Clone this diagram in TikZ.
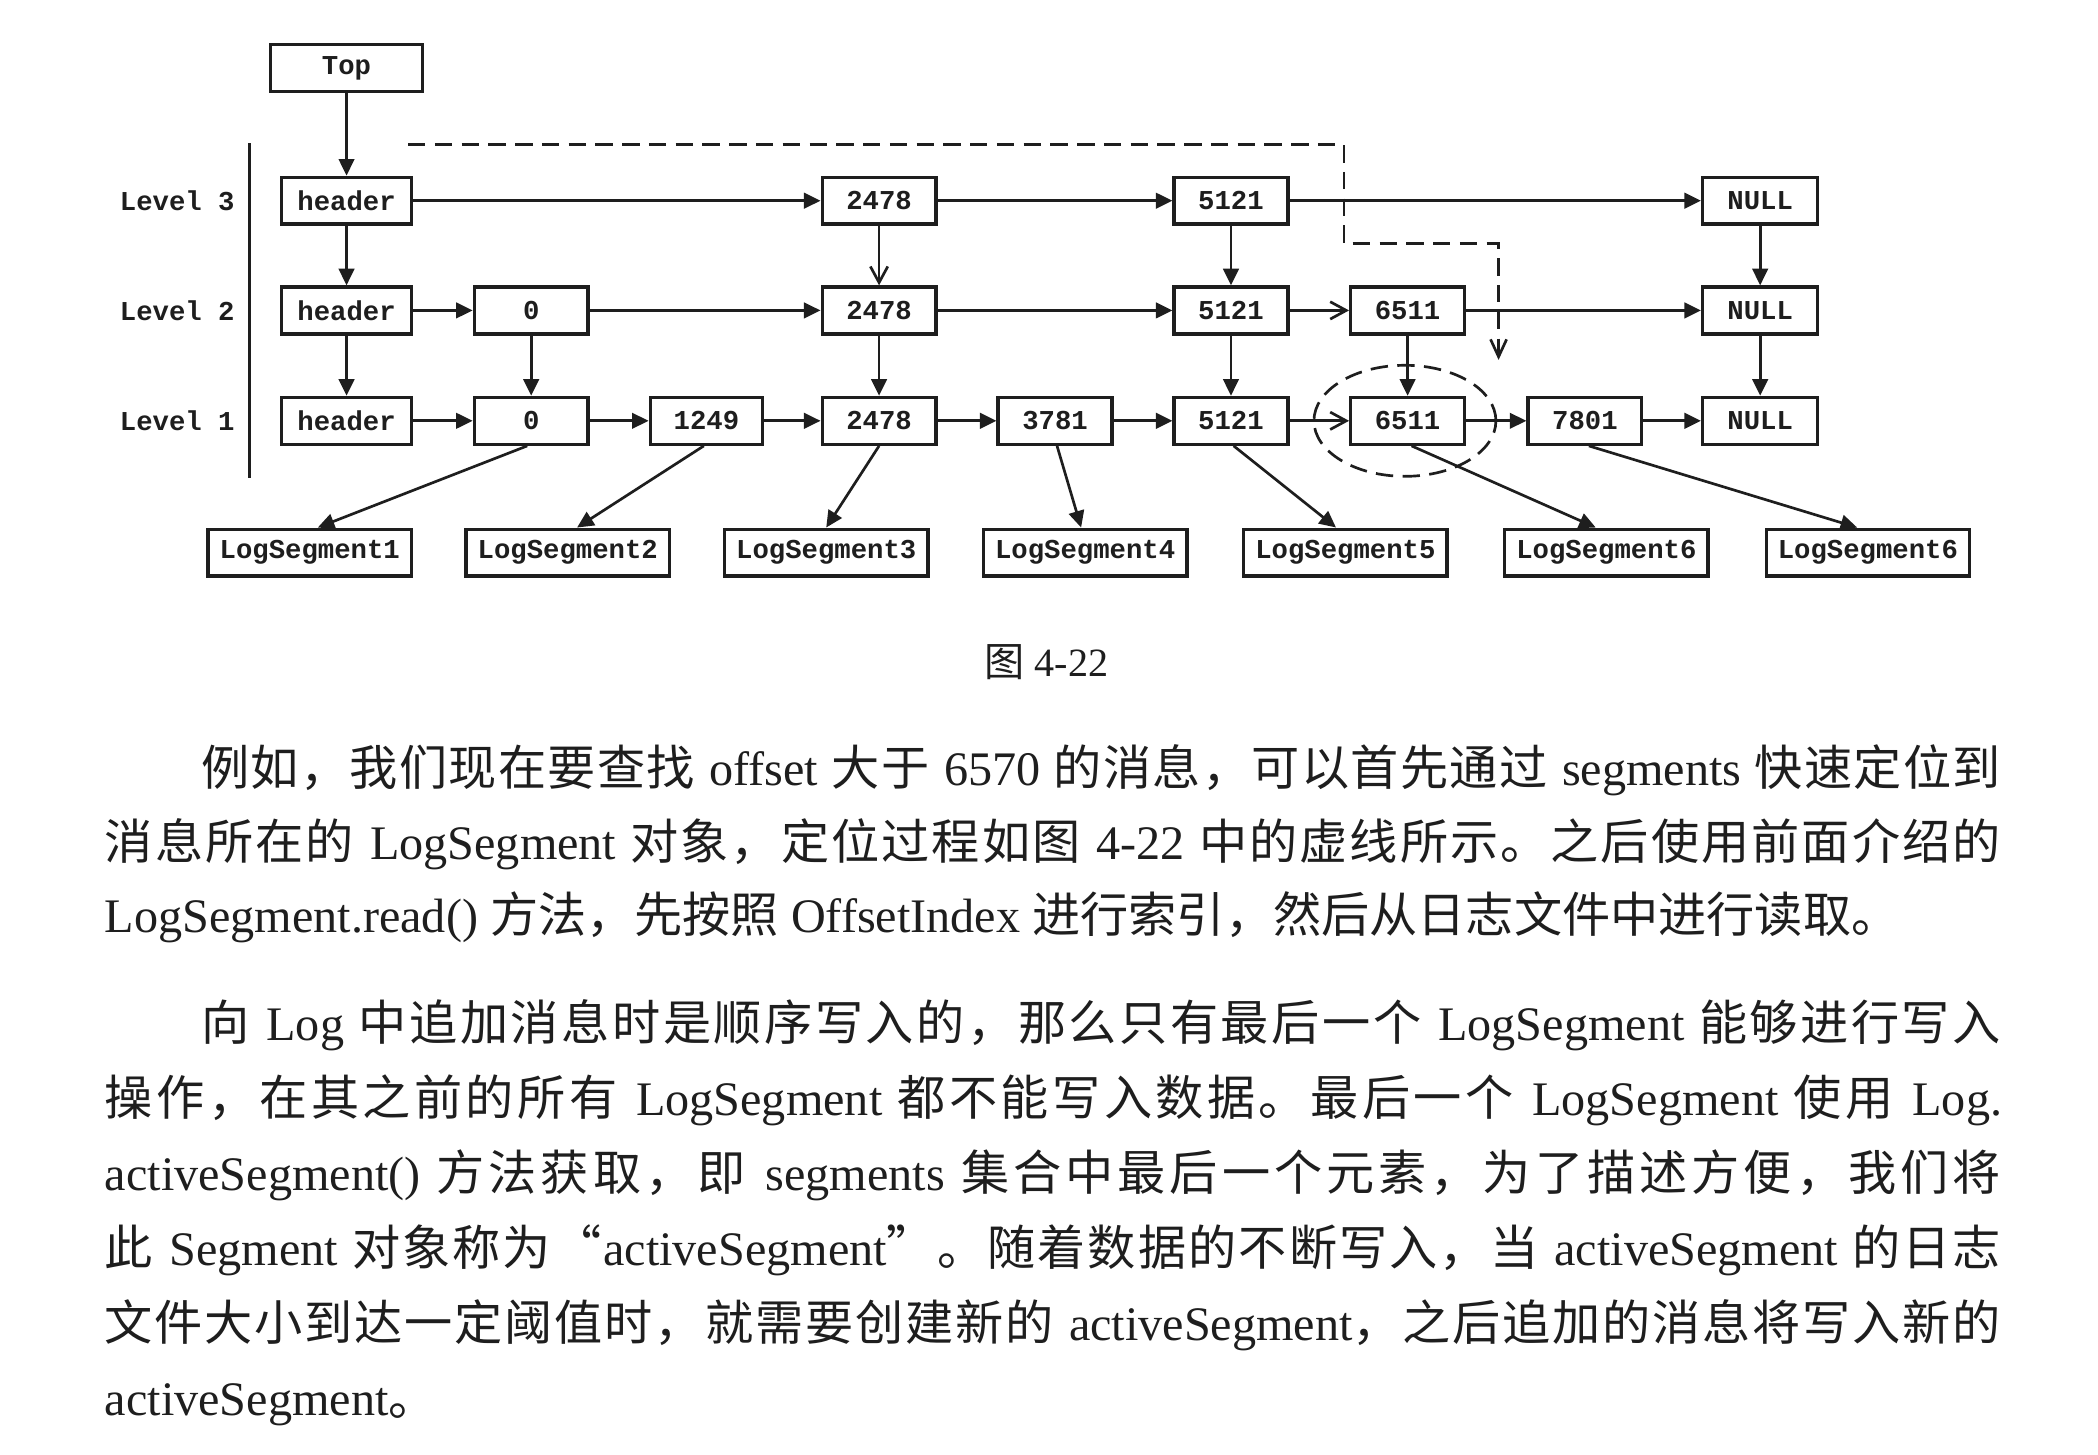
\documentclass[tikz,border=0pt]{standalone}
\usepackage{fontspec}
\setmainfont{Liberation Serif}
\newfontfamily\zh{Noto Sans CJK SC}
\newfontfamily\mono{Liberation Mono}
\usetikzlibrary{arrows.meta,calc}
\definecolor{ink}{HTML}{1E1E1E}

% Chinese run with stretchable glue after every character
\def\zhsloop#1{\ifx#1\relax\else#1\hskip0pt plus 1pt\relax\expandafter\zhsloop\fi}
\newcommand\zhs[1]{{\zh\zhsloop#1\relax}}
% one justified line of running text
\newcommand\jline[2]{\hbox to #1{#2\unskip}}

\begin{document}
\begin{tikzpicture}[x=0.5pt,y=-0.5pt,
  box/.style={draw=ink, line width=1.25pt, inner sep=0pt, minimum height=17.5pt,
    text=ink, font=\mono\bfseries\fontsize{10.2pt}{12pt}\selectfont},
  lbl/.style={inner sep=0pt, text=ink, font=\mono\bfseries\fontsize{10.2pt}{12pt}\selectfont},
  fa/.style={draw=ink, line width=1pt, -{Triangle[length=6.2pt,width=5.8pt]}},
  oa/.style={draw=ink, line width=1pt, -{Straight Barb[length=6pt,width=6.5pt,line width=1pt]}},
  dsh/.style={draw=ink, line width=1pt, dash pattern=on 6.5pt off 3.5pt},
  para/.style={anchor=base west, inner sep=0pt, text=ink,
    font=\fontsize{18pt}{20pt}\selectfont}]

\useasboundingbox (0,0) rectangle (1568,1087);
\fill[white] (0,0) rectangle (1568,1087);

% ---------- skip list ----------
\node[box, minimum width=57pt] (top) at (259,51) {Top};

\node[lbl] (lv3) at (132.5,150) {Level 3};
\node[lbl] (lv2) at (132.5,232) {Level 2};
\node[lbl] (lv1) at (132.5,314.5) {Level 1};
\draw[ink, line width=1pt] (186.5,107) -- (186.5,357);

\node[box, minimum width=48.5pt] (h3) at (259,150) {header};
\node[box, minimum width=48.5pt] (h2) at (259,232) {header};
\node[box, minimum width=48.5pt] (h1) at (259,314.5) {header};

\node[box, minimum width=42.5pt] (z2) at (397,232) {0};
\node[box, minimum width=42.5pt] (z1) at (397,314.5) {0};
\node[box, minimum width=42pt] (n1249) at (528,314.5) {1249};

\node[box, minimum width=42.5pt] (a3) at (657,150) {2478};
\node[box, minimum width=42.5pt] (a2) at (657,232) {2478};
\node[box, minimum width=42.5pt] (a1) at (657,314.5) {2478};

\node[box, minimum width=42.5pt] (b1) at (788.5,314.5) {3781};

\node[box, minimum width=42.5pt] (c3) at (920,150) {5121};
\node[box, minimum width=42.5pt] (c2) at (920,232) {5121};
\node[box, minimum width=42.5pt] (c1) at (920,314.5) {5121};

\node[box, minimum width=42.5pt] (d2) at (1052,232) {6511};
\node[box, minimum width=42.5pt] (d1) at (1052,314.5) {6511};

\node[box, minimum width=42.5pt] (e1) at (1184.5,314.5) {7801};

\node[box, minimum width=43pt] (u3) at (1315.5,150) {NULL};
\node[box, minimum width=43pt] (u2) at (1315.5,232) {NULL};
\node[box, minimum width=43pt] (u1) at (1315.5,314.5) {NULL};

% log segments
\node[box, minimum width=76pt] (s1) at (231.5,413) {LogSegment1};
\node[box, minimum width=76pt] (s2) at (424.3,413) {LogSegment2};
\node[box, minimum width=76pt] (s3) at (617.5,413) {LogSegment3};
\node[box, minimum width=76pt] (s4) at (811,413) {LogSegment4};
\node[box, minimum width=76pt] (s5) at (1005.5,413) {LogSegment5};
\node[box, minimum width=76pt] (s6) at (1200.6,413) {LogSegment6};
\node[box, minimum width=76pt] (s7) at (1396,413) {LogSegment6};

% vertical links
\draw[fa] (top) -- (h3);
\draw[fa] (h3) -- (h2);
\draw[fa] (h2) -- (h1);
\draw[fa] (z2) -- (z1);
\draw[oa] (a3) -- (a2);
\draw[fa] (a2) -- (a1);
\draw[fa] (c3) -- (c2);
\draw[fa] (c2) -- (c1);
\draw[fa] (d2) -- (d1);
\draw[fa] (u3) -- (u2);
\draw[fa] (u2) -- (u1);

% level 3
\draw[fa] (h3) -- (a3);
\draw[fa] (a3) -- (c3);
\draw[fa] (c3) -- (u3);
% level 2
\draw[fa] (h2) -- (z2);
\draw[fa] (z2) -- (a2);
\draw[fa] (a2) -- (c2);
\draw[oa] (c2) -- (d2);
\draw[fa] (d2) -- (u2);
% level 1
\draw[fa] (h1) -- (z1);
\draw[fa] (z1) -- (n1249);
\draw[fa] (n1249) -- (a1);
\draw[fa] (a1) -- (b1);
\draw[fa] (b1) -- (c1);
\draw[oa] (c1) -- (d1);
\draw[fa] (d1) -- (e1);
\draw[fa] (e1) -- (u1);

% entries to their segments
\draw[fa] ($(z1.south)+(-3,0)$) -- ($(s1.north)+(6,0)$);
\draw[fa] ($(n1249.south)+(-2,0)$) -- ($(s2.north)+(7,0)$);
\draw[fa] (a1.south) -- (s3.north);
\draw[fa] ($(b1.south)+(1.5,0)$) -- ($(s4.north)+(-3,0)$);
\draw[fa] ($(c1.south)+(2,0)$) -- ($(s5.north)+(-7,0)$);
\draw[fa] ($(d1.south)+(3,0)$) -- ($(s6.north)+(-8,0)$);
\draw[fa] ($(e1.south)+(3,0)$) -- ($(s7.north)+(-8,0)$);

% search path
\coordinate (ds) at (305,108);
\coordinate (dk) at (1004.5,182);
\coordinate (de) at (1120,269);
\draw[dsh, -{Straight Barb[length=6.5pt,width=6pt,line width=1pt]}] (ds) -| (dk) -| (de);
\draw[dsh] ($(d1)+(-2,0)$) ellipse [x radius=34pt, y radius=20.75pt];

% ---------- caption and running text ----------
\node[inner sep=0pt, text=ink, font=\fontsize{15pt}{18pt}\selectfont] (cap) at (782,495) {{\zh 图} 4-22};

\begingroup
\spaceskip=4.5pt plus 1pt minus 1pt
\node[para] (t1) at (150,587) {\jline{672.5pt}{\zhs{例如，我们现在要查找} offset \zhs{大于} 6570 \zhs{的消息，可以首先通过} segments \zhs{快速定位到}}};
\node[para] (t2) at (78,642) {\jline{708.5pt}{\zhs{消息所在的} LogSegment \zhs{对象，定位过程如图} 4-22 \zhs{中的虚线所示。之后使用前面介绍的}}};
\node[para] (t3) at (78,697) {LogSegment.read() {\zh 方法，先按照} OffsetIndex {\zh 进行索引，然后从日志文件中进行读取。}};
\node[para] (t4) at (150,778) {\jline{672.5pt}{\zhs{向} Log \zhs{中追加消息时是顺序写入的，那么只有最后一个} LogSegment \zhs{能够进行写入}}};
\node[para] (t5) at (78,834) {\jline{709pt}{\zhs{操作，在其之前的所有} LogSegment \zhs{都不能写入数据。最后一个} LogSegment \zhs{使用} Log.}};
\node[para] (t6) at (78,890) {\jline{708.5pt}{activeSegment() \zhs{方法获取，即} segments \zhs{集合中最后一个元素，为了描述方便，我们将}}};
\node[para] (t7) at (78,946) {\jline{708.5pt}{\zhs{此} Segment \zhs{对象称为“}activeSegment\zhs{”。随着数据的不断写入，当} activeSegment \zhs{的日志}}};
\node[para] (t8) at (78,1002) {\jline{708.5pt}{\zhs{文件大小到达一定阈值时，就需要创建新的} activeSegment\zhs{，之后追加的消息将写入新的}}};
\node[para] (t9) at (78,1058) {activeSegment{\zh 。}};
\endgroup

\end{tikzpicture}
\end{document}
